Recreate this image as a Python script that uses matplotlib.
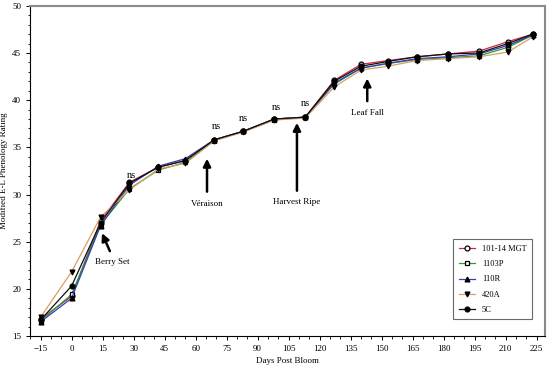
import matplotlib.pyplot as plt
from matplotlib.ticker import MultipleLocator

plt.rcParams['font.family'] = ['Liberation Serif', 'DejaVu Serif']

days = [-15, 0, 14, 28, 42, 55, 69, 83, 98, 113, 127, 140, 153, 167, 182, 197, 211, 223]

mgt = [16.8, 19.2, 27.2, 31.3, 32.9, 33.6, 35.8, 36.7, 38.0, 38.2, 42.1, 43.8, 44.2, 44.6, 44.9, 45.2, 46.2, 47.0]
p1103 = [16.6, 19.4, 26.8, 30.6, 32.6, 33.4, 35.7, 36.7, 37.9, 38.2, 41.7, 43.4, 43.9, 44.3, 44.5, 44.7, 45.6, 46.9]
r110 = [16.5, 19.0, 26.7, 31.0, 33.0, 33.8, 35.8, 36.7, 38.0, 38.2, 41.8, 43.4, 43.9, 44.4, 44.6, 44.9, 45.8, 46.9]
a420 = [17.0, 21.8, 27.6, 30.5, 32.7, 33.3, 35.7, 36.6, 37.9, 38.1, 41.4, 43.2, 43.6, 44.2, 44.4, 44.6, 45.1, 46.7]
c5 = [16.7, 20.3, 27.0, 31.2, 32.9, 33.6, 35.8, 36.7, 38.0, 38.2, 42.0, 43.6, 44.1, 44.6, 44.9, 45.0, 46.0, 47.0]

series = [
    ('101-14 MGT', mgt, '#d0283c', 'o', 'white'),
    ('1103P', p1103, '#2a9a3a', 's', 'white'),
    ('110R', r110, '#3040b8', '^', 'black'),
    ('420A', a420, '#d8a060', 'v', 'black'),
    ('5C', c5, '#101010', 'o', 'black'),
]

ns_x = [29, 70, 83, 99, 113]
ns_y = [32.0, 37.2, 38.1, 39.2, 39.6]

# (label, arrow tip, arrow tail, text position)
events = [
    ('Berry Set', (14.7, 25.9), (18.5, 24.0), (19.5, 23.3)),
    ('Véraison', (65.5, 33.8), (65.5, 30.3), (65.5, 29.4)),
    ('Harvest Ripe', (109, 37.6), (109, 30.4), (109, 29.6)),
    ('Leaf Fall', (143, 42.3), (143, 39.9), (143, 39.1)),
]

fig = plt.figure(figsize=(5.5, 3.66), dpi=100)
ax = fig.add_axes([0.055, 0.082, 0.936, 0.902])

for name, vals, col, mk, fc in series:
    ax.plot(days, vals, color=col, lw=0.9, marker=mk, markersize=3.5,
            markerfacecolor=fc, markeredgecolor='black', markeredgewidth=0.9,
            label=name)

for x, y in zip(ns_x, ns_y):
    ax.text(x, y, 'ns', ha='center', va='center', fontsize=7.5)

for label, tip, tail, txt in events:
    ax.annotate('', xy=tip, xytext=tail,
                arrowprops=dict(arrowstyle='-|>', color='black', lw=1.8,
                                mutation_scale=11, shrinkA=0, shrinkB=0))
    ax.text(txt[0], txt[1], label, ha='center', va='top', fontsize=6.5)

ax.set_xlim(-20, 229)
ax.set_ylim(15, 50)
ax.set_xticks(range(-15, 226, 15))
ax.xaxis.set_minor_locator(MultipleLocator(5))
ax.yaxis.set_major_locator(MultipleLocator(5))
ax.yaxis.set_minor_locator(MultipleLocator(1))
ax.tick_params(which='major', labelsize=6.5, length=3, width=0.7)
ax.tick_params(which='minor', length=1.8, width=0.6)

for s in ['left', 'bottom']:
    ax.spines[s].set_linewidth(0.8)
for s in ['top', 'right']:
    ax.spines[s].set_color('#8a8a8a')
    ax.spines[s].set_linewidth(1.5)

ax.set_xlabel('Days Post Bloom', fontsize=6.5, labelpad=3)
ax.set_ylabel('Modified E-L Phenology Rating', fontsize=6.5, labelpad=3)

leg = ax.legend(loc='lower right', bbox_to_anchor=(0.985, 0.035), fontsize=6,
                frameon=True, fancybox=False, edgecolor='#444444',
                labelspacing=0.85, handlelength=2.0, borderpad=0.7,
                borderaxespad=0.6)
leg.get_frame().set_linewidth(0.8)

fig.savefig('out.png', dpi=100)
